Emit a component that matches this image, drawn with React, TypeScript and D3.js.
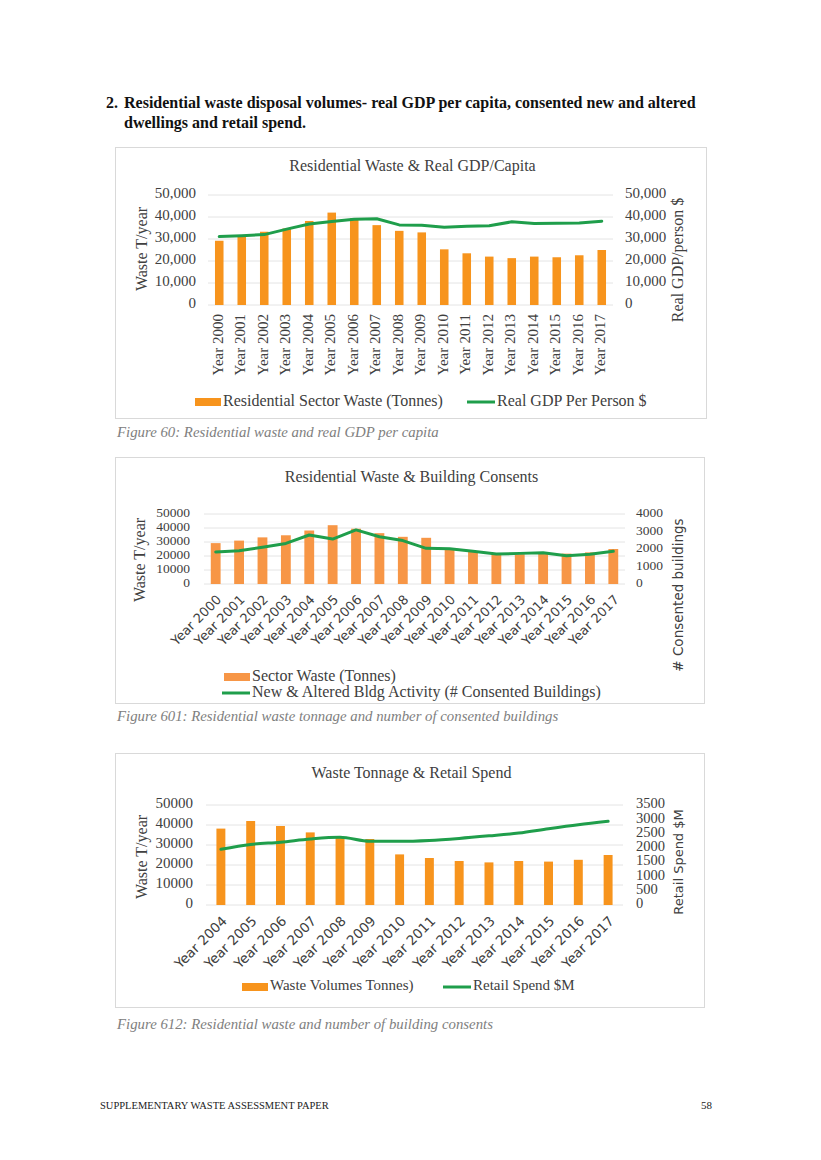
import React from 'react';
import * as d3 from 'd3';

// ---- data ----
const yearsAll = [
  'Year 2000', 'Year 2001', 'Year 2002', 'Year 2003', 'Year 2004', 'Year 2005',
  'Year 2006', 'Year 2007', 'Year 2008', 'Year 2009', 'Year 2010', 'Year 2011',
  'Year 2012', 'Year 2013', 'Year 2014', 'Year 2015', 'Year 2016', 'Year 2017',
];
const wasteTonnes = [
  29200, 31000, 33300, 34800, 38200, 42000, 39500, 36300, 33700,
  33000, 25300, 23500, 22000, 21300, 22000, 21700, 22600, 25000,
];
const gdpPerPerson = [
  31100, 31500, 32000, 34500, 36800, 38000, 39000, 39200, 36400,
  36300, 35300, 35800, 36000, 37800, 37100, 37200, 37300, 38100,
];
const consentedBuildings = [
  1830, 1900, 2100, 2320, 2800, 2570, 3090, 2700, 2480,
  2040, 2020, 1870, 1710, 1750, 1790, 1620, 1700, 1870,
];
const yearsRetail = [
  'Year 2004', 'Year 2005', 'Year 2006', 'Year 2007', 'Year 2008', 'Year 2009', 'Year 2010',
  'Year 2011', 'Year 2012', 'Year 2013', 'Year 2014', 'Year 2015', 'Year 2016', 'Year 2017',
];
const wasteRetailYears = [
  38200, 42000, 39500, 36300, 33700, 33000, 25300, 23500, 22000, 21300, 22000, 21700, 22600, 25000,
];
const retailSpend = [
  1950, 2120, 2200, 2310, 2370, 2230, 2230, 2260, 2330, 2420, 2520, 2670, 2810, 2930,
];

const SERIF = "'Liberation Serif', 'Times New Roman', serif";
const SANS = "'DejaVu Sans', 'Noto Sans', sans-serif";
const TEXT = '#404040';
const GREEN = '#1f9e4b';
const GRID = '#e4e4e4';

type LegendItem = { kind: 'bar' | 'line'; x: number; y: number; label: string };

type ComboProps = {
  box: { x: number; y: number; w: number; h: number };
  title: string;
  titleY: number;
  categories: string[];
  bars: number[];
  line: number[];
  plot: { x0: number; x1: number; y0: number; y1: number };
  leftMax: number;
  leftTicks: number;
  rightMax: number;
  rightTicks: number;
  leftFmt: (n: number) => string;
  rightFmt: (n: number) => string;
  leftTickX: number;
  rightTickX: number;
  tickSize: number;
  rightTickSize: number;
  leftTitle: { text: string; x: number; cy: number };
  rightTitle: { text: string; x: number; cy: number; size: number; family: string };
  xLabel: { rotate: number; size: number; family: string; dx: number; dy: number };
  barColor: string;
  padding: number;
  curve: d3.CurveFactory;
  legend: LegendItem[];
  legendSize: number;
};

const ComboChart: React.FC<ComboProps> = (p) => {
  const x = d3.scaleBand<string>().domain(p.categories).range([p.plot.x0, p.plot.x1]).paddingInner(p.padding).paddingOuter(p.padding / 2);
  const yL = d3.scaleLinear().domain([0, p.leftMax]).range([p.plot.y1, p.plot.y0]);
  const yR = d3.scaleLinear().domain([0, p.rightMax]).range([p.plot.y1, p.plot.y0]);
  const bw = x.bandwidth();
  const cx = (c: string) => (x(c) ?? 0) + bw / 2;

  const linePath = d3.line<number>()
    .x((_, i) => cx(p.categories[i]))
    .y((d) => yR(d))
    .curve(p.curve)(p.line) || '';

  return (
    <g>
      <rect x={p.box.x + 0.5} y={p.box.y + 0.5} width={p.box.w} height={p.box.h} fill="#fff" stroke="#d9d9d9" />
      <text x={p.box.x + p.box.w / 2 + 2} y={p.titleY} textAnchor="middle" dominantBaseline="middle" fontFamily={SERIF} fontSize={16} fill={TEXT}>
        {p.title}
      </text>

      {yL.ticks(p.leftTicks).map((t) => (
        <g key={'l' + t}>
          <line x1={p.plot.x0} x2={p.plot.x1} y1={yL(t)} y2={yL(t)} stroke={GRID} />
          <text x={p.leftTickX} y={yL(t)} textAnchor="end" dominantBaseline="middle" fontFamily={SERIF} fontSize={p.tickSize} fill={TEXT}>
            {p.leftFmt(t)}
          </text>
        </g>
      ))}
      {yR.ticks(p.rightTicks).map((t) => (
        <text key={'r' + t} x={p.rightTickX} y={yR(t)} dominantBaseline="middle" fontFamily={SERIF} fontSize={p.rightTickSize} fill={TEXT}>
          {p.rightFmt(t)}
        </text>
      ))}

      <text transform={`translate(${p.leftTitle.x},${p.leftTitle.cy}) rotate(-90)`} textAnchor="middle" dominantBaseline="middle" fontFamily={SERIF} fontSize={16} fill={TEXT}>
        {p.leftTitle.text}
      </text>
      <text transform={`translate(${p.rightTitle.x},${p.rightTitle.cy}) rotate(-90)`} textAnchor="middle" dominantBaseline="middle" fontFamily={p.rightTitle.family} fontSize={p.rightTitle.size} fill={TEXT}>
        {p.rightTitle.text}
      </text>

      {p.categories.map((c, i) => (
        <rect key={c} x={x(c)} y={yL(p.bars[i])} width={bw} height={yL(0) - yL(p.bars[i])} fill={p.barColor} />
      ))}
      <path d={linePath} fill="none" stroke={GREEN} strokeWidth={3} strokeLinejoin="round" strokeLinecap="round" />

      {p.categories.map((c) => (
        <text
          key={'x' + c}
          transform={`translate(${cx(c) + p.xLabel.dx},${p.plot.y1 + p.xLabel.dy}) rotate(${p.xLabel.rotate})`}
          textAnchor="end"
          dominantBaseline="middle"
          fontFamily={p.xLabel.family}
          fontSize={p.xLabel.size}
          fill={TEXT}
        >
          {c}
        </text>
      ))}

      {p.legend.map((l) => (
        <g key={l.label}>
          {l.kind === 'bar'
            ? <rect x={l.x} y={l.y - 4} width={26} height={8} fill={p.barColor} />
            : <line x1={l.x} x2={l.x + 28} y1={l.y} y2={l.y} stroke={GREEN} strokeWidth={3} />}
          <text x={l.x + (l.kind === 'bar' ? 28 : 30)} y={l.y} dominantBaseline="middle" fontFamily={SERIF} fontSize={p.legendSize} fill={TEXT}>
            {l.label}
          </text>
        </g>
      ))}
    </g>
  );
};

const comma = d3.format(',');
const plain = d3.format('d');

const Caption: React.FC<{ y: number; text: string }> = ({ y, text }) => (
  <text x={117} y={y} dominantBaseline="middle" fontFamily={SERIF} fontStyle="italic" fontSize={14.8} fill="#808080">
    {text}
  </text>
);

export default function App() {
  return (
    <svg width={821} height={1160} style={{ position: 'absolute', left: 0, top: 0, background: '#fff' }}>
      <rect width={821} height={1160} fill="#fff" />
      <text x={106} y={108} fontFamily={SERIF} fontWeight="bold" fontSize={16} fill="#111">2.</text>
      <text x={124} y={108} fontFamily={SERIF} fontWeight="bold" fontSize={16} fill="#111">
        Residential waste disposal volumes- real GDP per capita, consented new and altered
      </text>
      <text x={124} y={128} fontFamily={SERIF} fontWeight="bold" fontSize={16} fill="#111">
        dwellings and retail spend.
      </text>

      <ComboChart
        box={{ x: 115, y: 147, w: 591, h: 271 }}
        title="Residential Waste & Real GDP/Capita"
        titleY={167}
        categories={yearsAll}
        bars={wasteTonnes}
        line={gdpPerPerson}
        plot={{ x0: 208, x1: 613, y0: 195, y1: 305 }}
        leftMax={50000}
        leftTicks={5}
        rightMax={50000}
        rightTicks={5}
        leftFmt={comma}
        rightFmt={comma}
        leftTickX={196}
        rightTickX={625}
        tickSize={15}
        rightTickSize={15}
        leftTitle={{ text: 'Waste T/year', x: 143, cy: 249 }}
        rightTitle={{ text: 'Real GDP/person $', x: 679, cy: 260, size: 16, family: SERIF }}
        xLabel={{ rotate: -90, size: 15, family: SERIF, dx: 0, dy: 9 }}
        barColor="#f7941d"
        padding={0.62}
        curve={d3.curveLinear}
        legend={[
          { kind: 'bar', x: 195, y: 402, label: 'Residential Sector Waste (Tonnes)' },
          { kind: 'line', x: 467, y: 402, label: 'Real GDP Per Person $' },
        ]}
        legendSize={16}
      />
      <Caption y={434} text="Figure 60: Residential waste and real GDP per capita" />

      <ComboChart
        box={{ x: 115, y: 457, w: 589, h: 246 }}
        title="Residential Waste & Building Consents"
        titleY={478}
        categories={yearsAll}
        bars={wasteTonnes}
        line={consentedBuildings}
        plot={{ x0: 204, x1: 625, y0: 514, y1: 584 }}
        leftMax={50000}
        leftTicks={5}
        rightMax={4000}
        rightTicks={4}
        leftFmt={plain}
        rightFmt={plain}
        leftTickX={190}
        rightTickX={636}
        tickSize={13.5}
        rightTickSize={13.5}
        leftTitle={{ text: 'Waste T/year', x: 141, cy: 560 }}
        rightTitle={{ text: '# Consented buildings', x: 679, cy: 595, size: 13.5, family: SANS }}
        xLabel={{ rotate: -45, size: 13, family: SANS, dx: 4, dy: 14 }}
        barColor="#f79646"
        padding={0.58}
        curve={d3.curveLinear}
        legend={[
          { kind: 'bar', x: 224, y: 677, label: 'Sector Waste (Tonnes)' },
          { kind: 'line', x: 222, y: 693, label: 'New & Altered Bldg Activity (# Consented Buildings)' },
        ]}
        legendSize={16}
      />
      <Caption y={718} text="Figure 601: Residential waste tonnage and number of consented buildings" />

      <ComboChart
        box={{ x: 115, y: 753, w: 589, h: 254 }}
        title="Waste Tonnage & Retail Spend"
        titleY={774}
        categories={yearsRetail}
        bars={wasteRetailYears}
        line={retailSpend}
        plot={{ x0: 206, x1: 623, y0: 805, y1: 905 }}
        leftMax={50000}
        leftTicks={5}
        rightMax={3500}
        rightTicks={7}
        leftFmt={plain}
        rightFmt={plain}
        leftTickX={193}
        rightTickX={636}
        tickSize={15}
        rightTickSize={14.5}
        leftTitle={{ text: 'Waste T/year', x: 143, cy: 857 }}
        rightTitle={{ text: 'Retail Spend $M', x: 679, cy: 862, size: 13, family: SANS }}
        xLabel={{ rotate: -45, size: 13.5, family: SANS, dx: 4, dy: 14 }}
        barColor="#f7941d"
        padding={0.7}
        curve={d3.curveMonotoneX}
        legend={[
          { kind: 'bar', x: 242, y: 987, label: 'Waste Volumes Tonnes)' },
          { kind: 'line', x: 443, y: 987, label: 'Retail Spend $M' },
        ]}
        legendSize={15}
      />
      <Caption y={1026} text="Figure 612: Residential waste and number of building consents" />

      <text x={100} y={1109} fontFamily={SERIF} fontSize={10.5} fill="#222">SUPPLEMENTARY WASTE ASSESSMENT PAPER</text>
      <text x={712} y={1109} textAnchor="end" fontFamily={SERIF} fontSize={11} fill="#222">58</text>
    </svg>
  );
}
